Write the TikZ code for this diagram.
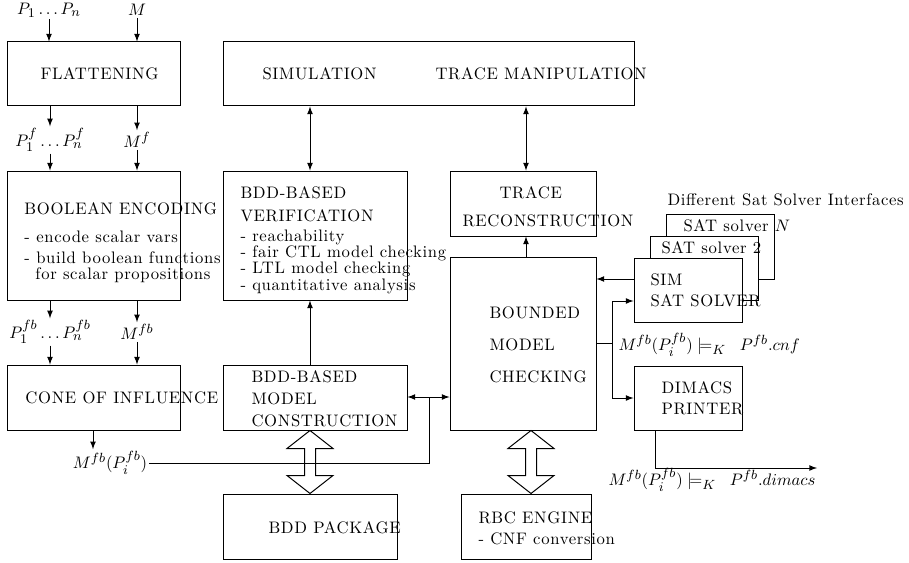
\documentclass[tikz,border=0pt]{standalone}
\usepackage{tikz}
\usetikzlibrary{positioning}
\usetikzlibrary{calc}
\usepackage{amssymb}
\usepackage{amsmath}
\usepackage{fontspec}
\setmainfont{Latin Modern Roman}[LetterSpace=4.0]
\DeclareMathSizes{10}{10}{8.5}{7}

% hollow two-headed arrow between two boxes, at a given x
\newcommand{\fatarrow}[3]{%
  \coordinate (fa1) at (#3,0 |- #1.south);
  \coordinate (fa2) at (#3,0 |- #2.north);
  \draw[-] (fa1) -- ++(23,18) -- ++(-17.5,0) -- ($(fa2)+(5.5,-18)$) -- ++(17.5,0) -- (fa2)
    -- ++(-23,-18) -- ++(17.5,0) -- ($(fa1)+(-5.5,18)$) -- ++(-17.5,0) -- cycle;}

\begin{document}
\begin{tikzpicture}[->, >=latex, x=0.6pt, y=-0.6pt, semithick,
  mybox/.style={rectangle, draw, inner sep=0pt},
  mytext/.style={anchor=west, inner sep=0pt, align=left},
  mylabel/.style={inner sep=1pt}]

  \useasboundingbox (0,0) rectangle (909,563);

  % boxes
  \node[mybox, minimum width=103.8pt, minimum height=38.4pt] (flat) at (93.5,74) {};
  \node[mybox, minimum width=246.6pt, minimum height=38.4pt] (sim) at (428.5,74) {};
  \node[mybox, minimum width=103.8pt, minimum height=77.4pt] (boolenc) at (93.5,235.5) {};
  \node[mybox, minimum width=110.4pt, minimum height=77.4pt] (bddver) at (315,235.5) {};
  \node[mybox, minimum width=87.6pt, minimum height=39pt] (tracerec) at (523,203.5) {};
  \node[mybox, minimum width=103.8pt, minimum height=39pt] (coi) at (93.5,397.5) {};
  \node[mybox, minimum width=110.4pt, minimum height=39pt] (bddmc) at (315,397.5) {};
  \node[mybox, minimum width=87.6pt, minimum height=103.8pt] (bmc) at (523,343.5) {};
  \node[mybox, fill=white, minimum width=64.8pt, minimum height=39pt] (satn) at (720,246.5) {};
  \node[mybox, fill=white, minimum width=64.8pt, minimum height=38.4pt] (sat2) at (704,268) {};
  \node[mybox, fill=white, minimum width=64.8pt, minimum height=38.4pt] (simsat) at (688,290) {};
  \node[mybox, minimum width=64.8pt, minimum height=38.4pt] (dimacs) at (688,398) {};
  \node[mybox, minimum width=104.4pt, minimum height=39pt] (bddpkg) at (310,526.5) {};
  \node[mybox, minimum width=78pt, minimum height=39pt] (rbc) at (526,526.5) {};

  % box texts
  \node[mytext] (tflat) at (40,74) {FLATTENING};
  \node[mytext] (tsim) at (262,74) {SIMULATION};
  \node[mytext] (ttm) at (435,74) {TRACE MANIPULATION};
  \node[mytext] (tbe) at (24,209) {BOOLEAN ENCODING};
  \node[mytext] (tbe1) at (24,237) {- encode scalar vars};
  \node[mytext, font={\fontsize{10}{9.6}\selectfont}] (tbe2) at (24,267) {- build boolean functions\\\hspace*{6.6pt}for scalar propositions};
  \node[mytext, font={\fontsize{10}{13.8}\selectfont}] (tbv) at (240,204.5) {BDD-BASED\\VERIFICATION};
  \node[mytext, font={\fontsize{10}{9.8}\selectfont}] (tbv1) at (240,261.5) {- reachability\\- fair CTL model checking\\- LTL model checking\\- quantitative analysis};
  \node[mytext] (ttr1) at (499,193) {TRACE};
  \node[mytext] (ttr2) at (462,221) {RECONSTRUCTION};
  \node[mytext, font={\fontsize{10}{19.2}\selectfont}] (tbmc) at (489,345) {BOUNDED\\MODEL\\CHECKING};
  \node[mytext] (tdiff) at (667,200) {Different Sat Solver Interfaces};
  \node[mytext] (tsatn) at (683,226) {SAT solver $N$};
  \node[mytext] (tsat2) at (661,248) {SAT solver 2};
  \node[mytext, font={\fontsize{10}{12.6}\selectfont}] (tsimsat) at (650,290.5) {SIM\\SAT SOLVER};
  \node[mytext, font={\fontsize{10}{12.6}\selectfont}] (tdim) at (661,398.5) {DIMACS\\PRINTER};
  \node[mytext] (tcoi) at (25,398) {CONE OF INFLUENCE};
  \node[mytext, font={\fontsize{10}{13.2}\selectfont}] (tbddmc) at (251,399) {BDD-BASED\\MODEL\\CONSTRUCTION};
  \node[mytext] (tpkg) at (268,528) {BDD PACKAGE};
  \node[mytext, font={\fontsize{10}{12.6}\selectfont}] (trbc) at (478,528.5) {RBC ENGINE\\- CNF conversion};

  % data labels
  \node[mylabel] (p1n) at (49,10) {$P_1 \ldots P_n$};
  \node[mylabel] (m) at (137,10) {$M$};
  \node[mylabel] (pf) at (50,140) {$P_1^f \ldots P_n^f$};
  \node[mylabel] (mf) at (137,140) {$M^f$};
  \node[mylabel] (pfb) at (50,332) {$P_1^{fb} \ldots P_n^{fb}$};
  \node[mylabel] (mfb) at (137,332) {$M^{fb}$};
  \node[mylabel] (mfbpi) at (110,463) {$M^{fb}(P_i^{fb})$};
  \node[mytext] (lcnf) at (618,345) {$M^{fb}(P_i^{fb}) \models_K\;\; P^{fb}.cnf$};
  \node[mytext] (ldim) at (608,480) {$M^{fb}(P_i^{fb}) \models_K\;\; P^{fb}.dimacs$};

  \coordinate (join) at (429,397);
  \coordinate (branch) at (612,343);
  \coordinate (dimout) at (817,468);

  \path
    (p1n) edge (flat.north -| p1n)
    (m) edge (flat.north -| m)
    (flat.south -| pf) edge (pf)
    (flat.south -| mf) edge (mf)
    (pf) edge (boolenc.north -| pf)
    (mf) edge (boolenc.north -| mf)
    (boolenc.south -| pfb) edge (pfb)
    (boolenc.south -| mfb) edge (mfb)
    (pfb) edge (coi.north -| pfb)
    (mfb) edge (coi.north -| mfb)
    (93,0 |- coi.south) edge (93,0 |- mfbpi.north)
    (310,0 |- sim.south) edge[<->] (310,0 |- bddver.north)
    (526,0 |- sim.south) edge[<->] (526,0 |- tracerec.north)
    (310,0 |- bddmc.north) edge (310,0 |- bddver.south)
    (526,0 |- bmc.north) edge (526,0 |- tracerec.south)
    (simsat.west |- 0,279) edge (bmc.east |- 0,279)
    (join) edge (bddmc.east |- join)
    (join) edge (bmc.west |- join)
  ;

  \draw[-] (mfbpi.east) -| (join);
  \draw[-] (bmc.east |- branch) -- (branch);
  \draw (branch) |- (simsat.west |- 0,301);
  \draw (branch) |- (dimacs.west);
  \draw (655,0 |- dimacs.south) |- (dimout);

  \fatarrow{bddmc}{bddpkg}{310}
  \fatarrow{bmc}{rbc}{531}
\end{tikzpicture}
\end{document}
